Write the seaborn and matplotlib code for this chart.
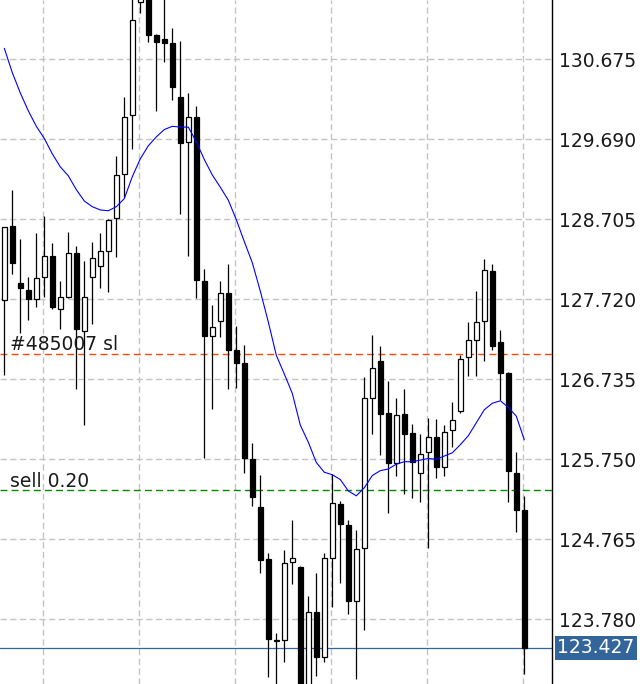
import numpy as np
import pandas as pd
import matplotlib
matplotlib.use("Agg")
import matplotlib.pyplot as plt
import seaborn as sns

sns.set_theme(style="white")
plt.rcParams['font.family'] = ['DejaVu Sans']

# %% data (price units)
opens = [127.71, 128.62, 127.92, 127.84, 127.72, 127.99, 128.25, 127.60, 127.75, 128.29,
         127.33, 127.99, 128.13, 128.32, 128.72, 129.26, 129.99, 131.38, 131.50, 130.98,
         130.92, 130.87, 130.21, 129.66, 129.97, 127.95, 127.27, 127.45, 127.80, 127.09,
         126.94, 125.75, 125.16, 124.52, 123.53, 123.53, 124.48, 124.42, 122.91, 123.87,
         123.31, 124.54, 125.20, 124.94, 124.00, 124.66, 126.50, 126.96, 126.32, 125.70,
         126.31, 126.07, 125.58, 125.84, 126.02, 125.65, 126.11, 126.35, 127.01, 127.22,
         127.45, 128.07, 127.19, 126.81, 125.58, 125.13]
highs = [128.61, 129.07, 128.46, 127.99, 128.54, 128.75, 128.41, 127.95, 128.55, 128.37,
         128.19, 128.43, 128.53, 128.71, 129.48, 130.21, 131.45, 131.53, 131.59, 130.99,
         131.43, 131.06, 130.90, 130.26, 130.10, 128.09, 127.65, 127.94, 128.16, 127.39,
         127.16, 125.95, 125.56, 124.60, 123.61, 124.63, 125.00, 124.44, 124.07, 124.35,
         124.59, 125.57, 125.24, 125.00, 124.88, 126.76, 127.28, 127.15, 126.71, 126.50,
         126.62, 126.19, 126.06, 126.26, 126.25, 126.17, 126.45, 127.04, 127.44, 127.82,
         128.22, 128.16, 127.34, 126.82, 125.84, 125.30]
lows = [126.79, 128.03, 127.31, 127.47, 127.63, 127.75, 127.60, 127.35, 127.74, 126.62,
        126.17, 127.42, 127.86, 127.81, 128.24, 128.98, 129.57, 131.24, 130.89, 130.04,
        130.64, 130.17, 128.77, 128.25, 127.73, 125.77, 126.37, 127.25, 126.62, 126.63,
        125.58, 125.17, 124.35, 123.07, 122.91, 123.26, 124.22, 122.79, 122.85, 123.08,
        123.26, 123.93, 124.23, 123.84, 123.05, 123.65, 126.06, 125.80, 125.09, 125.54,
        125.32, 125.27, 125.22, 124.66, 125.52, 125.54, 125.90, 126.32, 126.78, 126.78,
        126.96, 127.10, 126.48, 125.23, 124.86, 123.11]
closes = [128.61, 128.17, 127.86, 127.72, 127.98, 128.25, 127.63, 127.75, 128.29, 127.35,
          127.75, 128.23, 128.32, 128.70, 129.25, 129.97, 131.16, 131.47, 130.98, 130.89,
          130.87, 130.33, 129.65, 129.97, 127.96, 127.27, 127.38, 127.80, 127.09, 126.94,
          125.76, 125.28, 124.51, 123.54, 123.51, 124.47, 124.54, 122.85, 123.87, 123.31,
          124.53, 125.21, 124.95, 124.00, 124.64, 126.50, 126.87, 126.31, 125.70, 126.30,
          126.06, 125.72, 125.81, 126.02, 125.65, 126.09, 126.23, 126.98, 127.22, 127.44,
          128.08, 127.15, 126.81, 125.60, 125.13, 123.427]
ma = [130.81, 130.51, 130.26, 130.04, 129.85, 129.70, 129.51, 129.35, 129.24, 129.07,
      128.93, 128.86, 128.82, 128.81, 128.86, 128.96, 129.23, 129.45, 129.61, 129.72,
      129.81, 129.85, 129.84, 129.84, 129.66, 129.44, 129.25, 129.10, 128.94, 128.70,
      128.43, 128.17, 127.82, 127.44, 127.03, 126.80, 126.56, 126.17, 125.96, 125.71,
      125.59, 125.56, 125.50, 125.36, 125.30, 125.40, 125.55, 125.61, 125.63, 125.69,
      125.72, 125.72, 125.74, 125.76, 125.75, 125.79, 125.83, 125.93, 126.04, 126.20,
      126.36, 126.44, 126.47, 126.39, 126.28, 125.99]
yticks = [123.780, 124.765, 125.750, 126.735, 127.720, 128.705, 129.690, 130.675]
sl_level = 127.047
sell_level = 125.368
last_price = 123.427

df = pd.DataFrame({"o": opens, "h": highs, "l": lows, "c": closes, "ma": ma})
df["i"] = np.arange(len(df))
up = df.c >= df.o

# %% figure
fig = plt.figure(figsize=(6.4, 6.84), dpi=100)
ax = fig.add_axes([0, 0, 552 / 640, 1])
ax.set_facecolor('white')

ax.set_xlim(-0.54, 68.46)
ax.set_ylim(122.983, 131.405)

# level lines
ax.axhline(sl_level, color='#ff4800', lw=1, ls=(0, (5, 3)), zorder=1.5)
ax.axhline(sell_level, color='#008a00', lw=1, ls=(0, (5, 3)), zorder=1.5)
ax.axhline(last_price, color='#2f66a3', lw=0.9, zorder=1.5)

# candles
ax.vlines(df.i, df.l, df.h, color='black', lw=0.9, zorder=2)
ax.bar(df.i[up], (df.c - df.o)[up], bottom=df.o[up], width=0.55,
       color='white', edgecolor='black', lw=0.9, zorder=3)
ax.bar(df.i[~up], (df.o - df.c)[~up], bottom=df.c[~up], width=0.55,
       color='black', edgecolor='black', lw=0.9, zorder=3)

# moving average
sns.lineplot(data=df, x='i', y='ma', color='#0000ff', lw=0.8, ax=ax, zorder=4)
ax.set_xlabel('')
ax.set_ylabel('')

# grid + axis
ax.set_yticks(yticks)
ax.set_yticklabels([f'{t:.3f}' for t in yticks])
ax.yaxis.tick_right()
ax.tick_params(axis='y', length=0, pad=5, labelsize=13.5, colors='#1a1a1a')
ax.set_xticks([4.85, 16.85, 28.85, 40.85, 52.85, 64.85])
ax.tick_params(axis='x', length=0, labelbottom=False)
ax.set_axisbelow(True)
ax.grid(True, color='#c4c4c4', lw=1, ls=(0, (4.5, 2.5)))
for s in ['top', 'bottom', 'left']:
    ax.spines[s].set_visible(False)
ax.spines['right'].set_color('black')
ax.spines['right'].set_linewidth(1)

# labels on the levels
ax.annotate('#485007 sl', xy=(0.018, sl_level), xycoords=('axes fraction', 'data'),
            xytext=(0, 2.5), textcoords='offset points', va='baseline',
            fontsize=13.5, color='#1a1a1a')
ax.annotate('sell 0.20', xy=(0.018, sell_level), xycoords=('axes fraction', 'data'),
            xytext=(0, 2.5), textcoords='offset points', va='baseline',
            fontsize=13.5, color='#1a1a1a')
ax.annotate(f'{last_price:.3f}', xy=(1, last_price), xycoords=('axes fraction', 'data'),
            xytext=(3.6, 0), textcoords='offset points', va='center', ha='left',
            fontsize=13.5, color='white', annotation_clip=False,
            bbox=dict(boxstyle='square,pad=0.12', fc='#34659a', ec='none'))

fig.savefig('out.png', dpi=100)
